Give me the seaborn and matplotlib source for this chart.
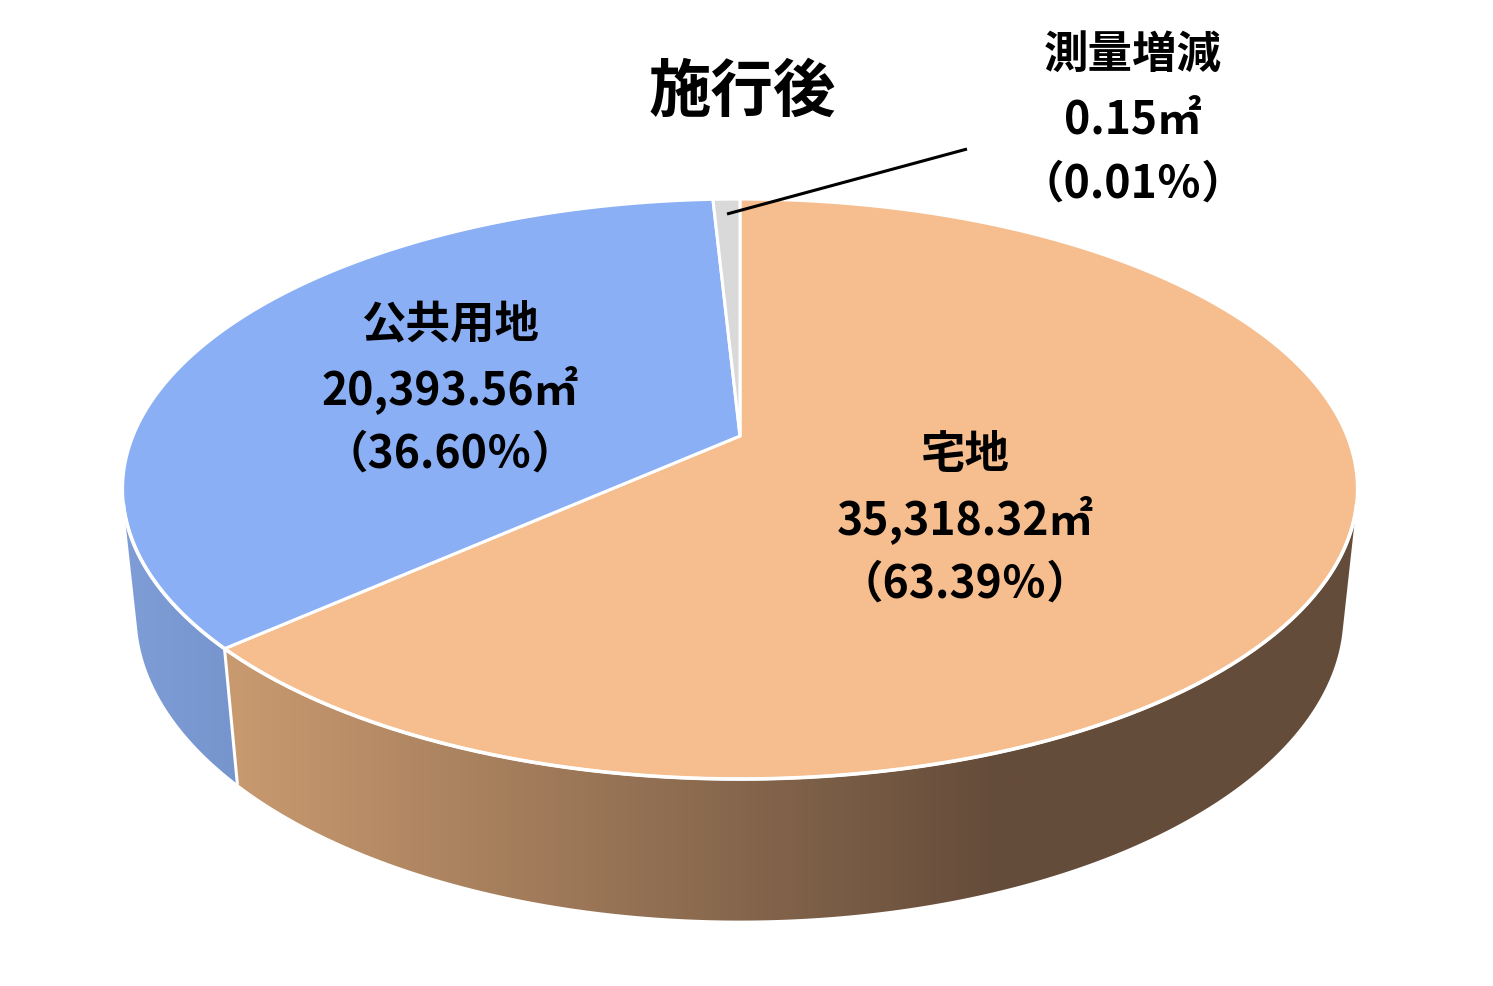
import numpy as np
import matplotlib
matplotlib.use("Agg")
import matplotlib.pyplot as plt
from matplotlib.patches import Polygon
import seaborn as sns

# data
categories = ["宅地", "公共用地", "測量増減"]
areas = [35318.32, 20393.56, 0.15]
area_labels = ["35,318.32㎡", "20,393.56㎡", "0.15㎡"]
pct_labels = ["（63.39％）", "（36.60％）", "（0.01％）"]
title = "施行後"

# colours: top face, side gradient (light -> dark) and where the gradient runs (px)
top_colors = ["#F6BE8F", "#8AAFF5", "#D9D9D9"]
side_colors = [("#C8996F", "#644C3A"), ("#7E9CD6", "#7594CC"), ("#C8C8C8", "#B4B4B4")]
side_span = [(240, 1000), (130, 250), (700, 740)]

# tiny slices are drawn at least this wide, like the original
MIN_SHARE = 0.0084

# perspective camera for the pie (pixel space)
CX, CY = 740, 437
F, D, PHI, H = 2944.0, 4.85, np.radians(27.5), 0.235
W, HT = 1493, 987


def project(theta, r=1.0, z=0.0):
    """theta clockwise from 12 o'clock, z=0 top face, z=-H bottom face."""
    u = r * np.sin(theta)
    v = r * np.cos(theta)
    yc = v * np.sin(PHI) + z * np.cos(PHI)
    zc = v * np.cos(PHI) + D - z * np.sin(PHI)
    return CX + F * u / zc, CY - F * yc / zc


def arc(t0, t1, z=0.0, n=200):
    t = np.linspace(t0, t1, n)
    x, y = project(t, z=z)
    return np.column_stack([x, y])


sns.set_theme(style="white")
plt.rcParams["font.family"] = ["Noto Sans CJK JP", "DejaVu Sans"]

fig = plt.figure(figsize=(W / 100, HT / 100), dpi=100)
ax = fig.add_axes([0, 0, 1, 1])
ax.set_xlim(0, W)
ax.set_ylim(HT, 0)
ax.axis("off")

# slice angles
shares = np.array(areas) / np.sum(areas)
shown = shares.copy()
shown[2] = max(shares[2], MIN_SHARE)
shown[1] -= shown[2] - shares[2]
bounds = np.concatenate([[0], np.cumsum(shown)]) * 2 * np.pi

# visible part of the side wall (between the silhouette lines)
t_sil = np.arccos(-1 / (D * np.cos(PHI)))
vis0, vis1 = t_sil, 2 * np.pi - t_sil

# side walls with horizontal gradient
xs = np.linspace(0, W, 600)
for i in range(len(categories)):
    t0, t1 = max(bounds[i], vis0), min(bounds[i + 1], vis1)
    if t1 <= t0:
        continue
    pts = np.vstack([arc(t0, t1), arc(t1, t0, z=-H)])
    poly = Polygon(pts, closed=True, facecolor="none", edgecolor="none")
    ax.add_patch(poly)
    cmap = sns.blend_palette(list(side_colors[i]), as_cmap=True)
    x0, x1 = side_span[i]
    grad = np.clip((xs - x0) / (x1 - x0), 0, 1)[None, :]
    im = ax.imshow(grad, cmap=cmap, vmin=0, vmax=1, aspect="auto",
                   extent=[0, W, HT, 0], interpolation="bilinear", zorder=1)
    im.set_clip_path(poly)
    # white seam between walls
    if vis0 < bounds[i + 1] < vis1:
        sx, sy = project(np.array([bounds[i + 1]] * 2), z=np.array([0, -H]))
        ax.plot(sx, sy, color="white", lw=2.2, zorder=2)

# top faces
for i in range(len(categories)):
    pts = np.vstack([[project(0, r=0)], arc(bounds[i], bounds[i + 1])])
    ax.add_patch(Polygon(pts, closed=True, facecolor=top_colors[i],
                         edgecolor="white", lw=2.2, joinstyle="round", zorder=3))

# white rim along the front edge of the top face
rim = arc(vis0, vis1)
ax.plot(rim[:, 0], rim[:, 1], color="white", lw=2.6, zorder=4)

# leader line for the small slice
ax.plot([727, 967], [215, 150], color="black", lw=2.2, zorder=5,
        solid_capstyle="butt")

# labels
label_pos = [(965, 455), (450, 325), (1133, 55)]
for i, (x, y) in enumerate(label_pos):
    for j, s in enumerate([categories[i], area_labels[i], pct_labels[i]]):
        ax.text(x, y + 65 * j, s, ha="center", va="center", fontsize=32,
                fontweight="bold", color="black", zorder=6)

ax.text(742, 92, title, ha="center", va="center", fontsize=45,
        fontweight="bold", color="black", zorder=6)

fig.savefig("out.png", dpi=100)
plt.close(fig)
